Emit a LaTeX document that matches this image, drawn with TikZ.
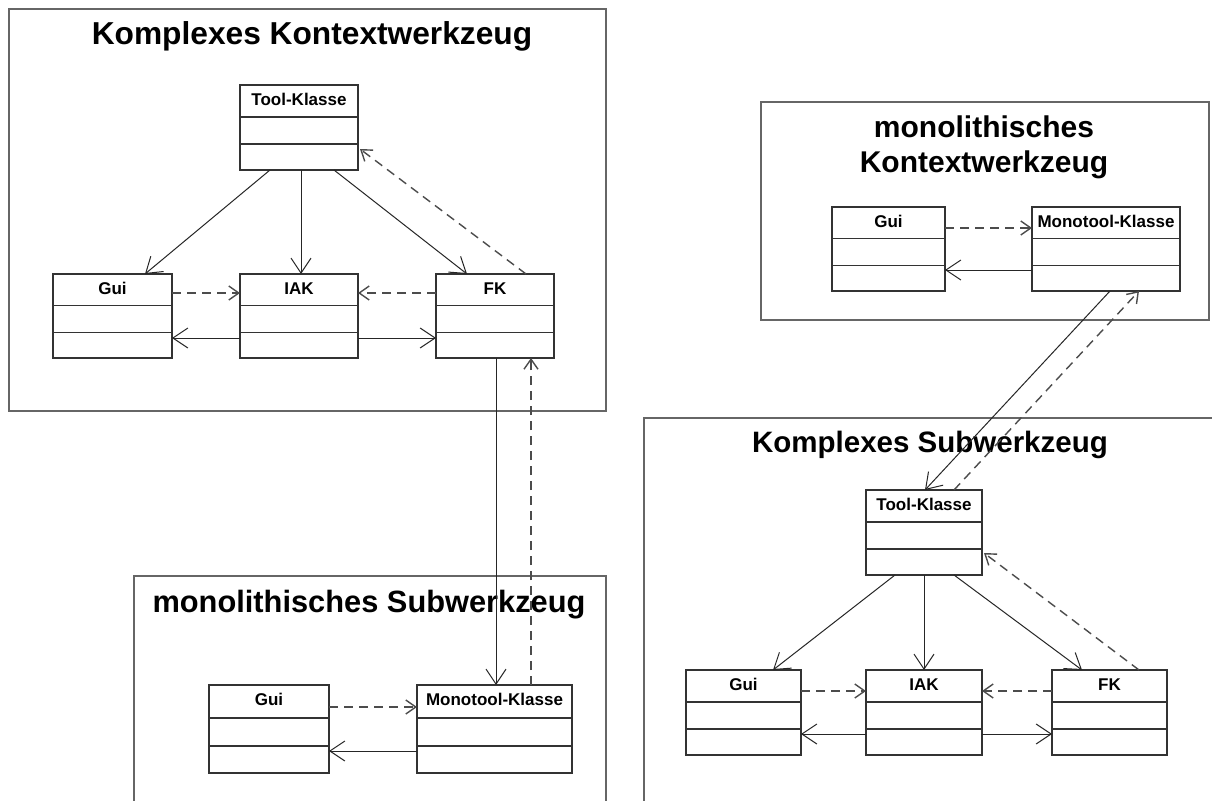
\documentclass[tikz,border=0pt]{standalone}
\usepackage{fontspec}
\setmainfont{Liberation Sans}
\usetikzlibrary{arrows.meta,calc}
\newcommand\umlcls[6]{%
  \node[cls, minimum width=#4pt, minimum height=#5pt] (#1) at (#2,#3) {};
  \draw[sep] ($(#1.north west)!0.376!(#1.south west)$) -- ($(#1.north east)!0.376!(#1.south east)$);
  \draw[sep] ($(#1.north west)!0.694!(#1.south west)$) -- ($(#1.north east)!0.694!(#1.south east)$);
  \node[clsname] (#1-t) at ($(#1.north)+(0,20.5)$) {#6};
}
\begin{document}
\begin{tikzpicture}[x=1pt,y=-1pt,
  frame/.style={draw=black!60, line width=1.5pt, inner sep=0pt, outer sep=0pt, anchor=north west},
  cls/.style={draw=black!80, line width=1.3pt, fill=white, inner sep=0pt, outer sep=0pt, anchor=north west},
  sep/.style={draw=black!80, line width=1.3pt},
  clsname/.style={font=\bfseries\fontsize{17}{20}\selectfont, inner sep=0pt, anchor=base},
  title/.style={font=\bfseries\fontsize{30}{36}\selectfont, inner sep=0pt, anchor=base},
  assoc/.style={draw=black!85, line width=1pt, -{Straight Barb[length=15pt,width=20pt]}},
  dep/.style={draw=black!70, line width=1.4pt, dash pattern=on 9pt off 6pt, -{Straight Barb[length=10pt,width=14pt]}},
]
\useasboundingbox[fill=white] (0,0) rectangle (1212,800);

% frames
\node[frame, minimum width=597pt, minimum height=402pt] (F1) at (9,9) {};
\node[frame, minimum width=448pt, minimum height=218pt] (F2) at (761,102) {};
\node[frame, minimum width=472pt, minimum height=240pt] (F3) at (134,576) {};
\node[frame, minimum width=580pt, minimum height=400pt] (F4) at (644,418) {};

% titles
\node[title, font=\bfseries\fontsize{31.7}{36}\selectfont] (t1) at (312,45) {Komplexes Kontextwerkzeug};
\node[title] (t2a) at (984,137) {monolithisches};
\node[title] (t2b) at (984,172) {Kontextwerkzeug};
\node[title, font=\bfseries\fontsize{30.8}{36}\selectfont] (t3) at (369,612) {monolithisches Subwerkzeug};
\node[title, font=\bfseries\fontsize{29.5}{36}\selectfont] (t4) at (930,452) {Komplexes Subwerkzeug};

% classes
\umlcls{T1}{240}{85}{118}{85}{Tool-Klasse}
\umlcls{G1}{53}{274}{119}{84}{Gui}
\umlcls{I1}{240}{274}{118}{84}{IAK}
\umlcls{K1}{436}{274}{118}{84}{FK}

\umlcls{G2}{832}{207}{113}{84}{Gui}
\umlcls{M2}{1032}{207}{148}{84}{Monotool-Klasse}

\umlcls{G3}{209}{685}{120}{88}{Gui}
\umlcls{M3}{417}{685}{155}{88}{Monotool-Klasse}

\umlcls{T4}{866}{490}{116}{85}{Tool-Klasse}
\umlcls{G4}{686}{670}{115}{85}{Gui}
\umlcls{I4}{866}{670}{116}{85}{IAK}
\umlcls{K4}{1052}{670}{115}{85}{FK}

% connectors F1
\draw[assoc] ($(T1.south west)+(30,0)$) -- ($(G1.north west)+(92,0)$);
\draw[assoc] ($(T1.south west)+(61,0)$) -- ($(I1.north west)+(61,0)$);
\draw[assoc] ($(T1.south west)+(94,0)$) -- ($(K1.north west)+(31,0)$);
\draw[dep] ($(K1.north west)+(90,0)$) -- ($(T1.north east)+(2,64)$);
\draw[dep] ($(G1.north east)+(0,19)$) -- ($(I1.north west)+(0,19)$);
\draw[dep] ($(K1.north west)+(0,19)$) -- ($(I1.north east)+(0,19)$);
\draw[assoc] ($(I1.north west)+(0,64)$) -- ($(G1.north east)+(0,64)$);
\draw[assoc] ($(I1.north east)+(0,64)$) -- ($(K1.north west)+(0,64)$);

% F1 - F3
\draw[assoc] ($(K1.south west)+(60,0)$) -- ($(M3.north west)+(79,0)$);
\draw[dep] ($(M3.north west)+(114,0)$) -- ($(K1.south west)+(95,0)$);

% F3
\draw[dep] ($(G3.north east)+(0,22)$) -- ($(M3.north west)+(0,22)$);
\draw[assoc] ($(M3.north west)+(0,66)$) -- ($(G3.north east)+(0,66)$);

% F2
\draw[dep] ($(G2.north east)+(0,21)$) -- ($(M2.north west)+(0,21)$);
\draw[assoc] ($(M2.north west)+(0,63)$) -- ($(G2.north east)+(0,63)$);

% F2 - F4
\draw[assoc] ($(M2.south west)+(78,0)$) -- ($(T4.north west)+(59,0)$);
\draw[dep] ($(T4.north west)+(88,0)$) -- ($(M2.south west)+(107,0)$);

% F4
\draw[assoc] ($(T4.south west)+(29,0)$) -- ($(G4.north west)+(87,0)$);
\draw[assoc] ($(T4.south west)+(58,0)$) -- ($(I4.north west)+(58,0)$);
\draw[assoc] ($(T4.south west)+(88,0)$) -- ($(K4.north west)+(30,0)$);
\draw[dep] ($(K4.north west)+(87,0)$) -- ($(T4.north east)+(2,63)$);
\draw[dep] ($(G4.north east)+(0,21)$) -- ($(I4.north west)+(0,21)$);
\draw[dep] ($(K4.north west)+(0,21)$) -- ($(I4.north east)+(0,21)$);
\draw[assoc] ($(I4.north west)+(0,64)$) -- ($(G4.north east)+(0,64)$);
\draw[assoc] ($(I4.north east)+(0,64)$) -- ($(K4.north west)+(0,64)$);
\end{tikzpicture}
\end{document}
